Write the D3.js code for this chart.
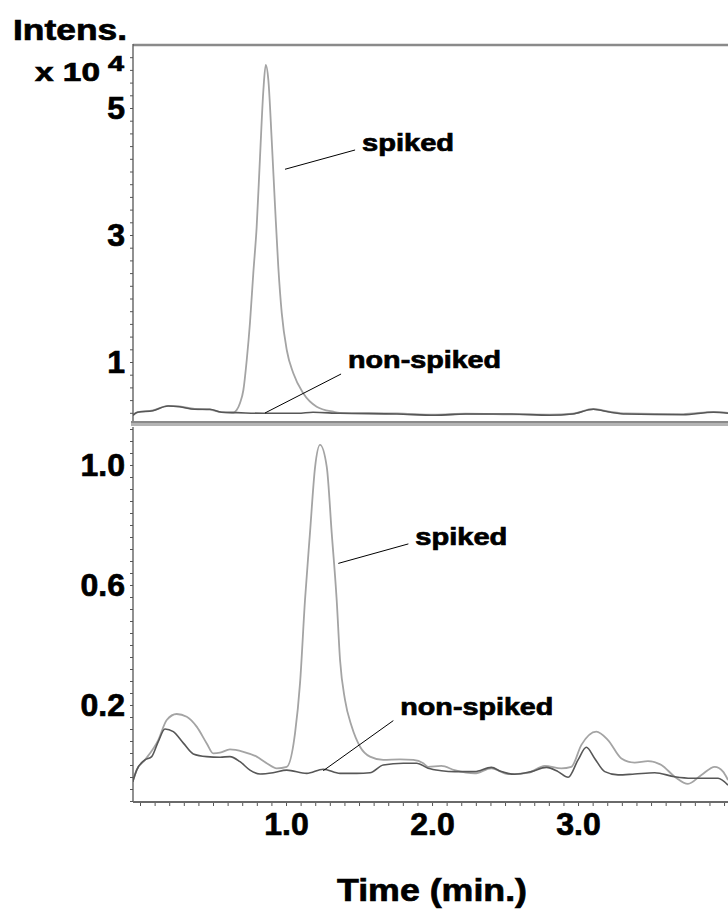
<!DOCTYPE html>
<html><head><meta charset="utf-8">
<script src="https://cdn.jsdelivr.net/npm/d3@7"></script>
<style>
html,body{margin:0;padding:0;background:#fff;}
svg{display:block;}
text{font-family:Arial,"Liberation Sans",sans-serif;font-weight:bold;fill:#000;stroke:#000;stroke-width:0.7px;}
</style>
</head><body>
<svg id="c" width="728" height="909"></svg>
<script>
// ---------- DATA (time in min, intensity) ----------
// Top panel, intensity x 10^4
const topNonSpiked = [[-0.048,0.16],[-0.016,0.208],[0.088,0.233],[0.192,0.307],[0.271,0.296],[0.375,0.255],[0.479,0.255],[0.558,0.208],[0.663,0.202],[0.846,0.192],[1.081,0.192],[1.185,0.208],[1.368,0.192],[1.760,0.181],[2.021,0.161],[2.230,0.181],[2.544,0.181],[2.805,0.161],[2.962,0.181],[3.105,0.255],[3.223,0.208],[3.327,0.181],[3.719,0.170],[3.928,0.208],[4.027,0.192]];
const topSpiked = [[-0.048,0.17],[-0.016,0.21],[0.088,0.238],[0.192,0.31],[0.271,0.30],[0.375,0.26],[0.479,0.25],[0.558,0.21],[0.640,0.205],[0.662,0.244],[0.685,0.354],[0.708,0.559],[0.731,1.031],[0.753,1.614],[0.776,2.402],[0.799,3.131],[0.822,4.233],[0.845,5.283],[0.861,5.677],[0.879,5.441],[0.902,4.496],[0.925,3.446],[0.947,2.501],[0.971,1.767],[1.005,1.189],[1.050,0.822],[1.118,0.507],[1.210,0.296],[1.324,0.217],[1.368,0.20],[1.760,0.19],[2.021,0.17],[2.230,0.185],[2.544,0.175],[2.805,0.17],[2.962,0.185],[3.105,0.26],[3.223,0.215],[3.327,0.19],[3.719,0.18],[3.928,0.215],[4.027,0.20]];
// Bottom panel
const botNonSpiked = [[-0.050,-0.056],[-0.023,-0.017],[0.034,0.017],[0.080,0.028],[0.125,0.078],[0.171,0.120],[0.228,0.111],[0.297,0.073],[0.365,0.037],[0.457,0.028],[0.548,0.026],[0.616,0.028],[0.685,0.011],[0.753,-0.017],[0.822,-0.030],[0.911,-0.026],[1.005,-0.017],[1.142,-0.028],[1.255,-0.014],[1.370,-0.028],[1.484,-0.028],[1.575,-0.026],[1.666,0.000],[1.803,0.006],[1.895,0.006],[1.973,-0.011],[2.064,-0.019],[2.155,-0.022],[2.292,-0.022],[2.406,-0.008],[2.475,-0.022],[2.566,-0.031],[2.680,-0.022],[2.783,-0.008],[2.863,-0.022],[2.932,-0.041],[3.000,0.017],[3.057,0.059],[3.114,0.022],[3.183,-0.022],[3.274,-0.033],[3.388,-0.030],[3.525,-0.026],[3.662,-0.039],[3.776,-0.044],[3.959,-0.044],[4.027,-0.067]];
const botSpiked = [[-0.050,-0.056],[-0.023,-0.017],[0.034,0.017],[0.125,0.083],[0.183,0.150],[0.251,0.170],[0.320,0.161],[0.388,0.128],[0.457,0.072],[0.502,0.039],[0.548,0.041],[0.616,0.052],[0.708,0.044],[0.799,0.028],[0.868,0.006],[0.936,-0.011],[1.005,-0.006],[1.062,0.107],[1.096,0.273],[1.130,0.550],[1.164,0.773],[1.199,0.993],[1.233,1.067],[1.279,0.994],[1.313,0.773],[1.347,0.550],[1.370,0.350],[1.404,0.217],[1.450,0.128],[1.507,0.061],[1.575,0.028],[1.666,0.017],[1.781,0.019],[1.872,0.017],[1.940,0.006],[1.973,-0.006],[2.064,-0.003],[2.155,-0.017],[2.292,-0.028],[2.406,-0.011],[2.521,-0.030],[2.658,-0.026],[2.772,-0.003],[2.886,-0.011],[2.954,-0.006],[3.023,0.067],[3.125,0.111],[3.205,0.083],[3.297,0.022],[3.388,0.008],[3.479,0.013],[3.571,0.000],[3.662,-0.039],[3.753,-0.063],[3.845,-0.033],[3.936,-0.006],[3.993,-0.022],[4.027,-0.050]];

const xTickLabels = [1.0, 2.0, 3.0];
const topTickLabels = [1, 3, 5];
const botTickLabels = [0.2, 0.6, 1.0];
const xTitle = "Time (min.)";
const yTitle = "Intens.";
const yUnit = "x 10";
const yUnitExp = "4";
// annotations: label, leader start, leader end (data units)
const topAnnotations = [
  {label:"spiked", from:[0.993,4.035], to:[1.473,4.339]},
  {label:"non-spiked", from:[0.856,0.197], to:[1.377,0.811]}
];
const botAnnotations = [
  {label:"spiked", from:[1.358,0.672], to:[1.838,0.737]},
  {label:"non-spiked", from:[1.255,-0.019], to:[1.735,0.148]}
];

// ---------- LAYOUT ----------
const svg = d3.select("#c");
const L = 133, R = 728;
const x = d3.scaleLinear().domain([-0.048, 4.027]).range([L, R]);
const yTop = d3.scaleLinear().domain([0, 6]).range([425.5, 44.5]);
const yBot = d3.scaleLinear().domain([-0.125, 1.1333]).range([802.5, 425]);

const defs = svg.append("defs");
defs.append("clipPath").attr("id","clipTop").append("rect").attr("x",L).attr("y",46).attr("width",R-L).attr("height",375);
defs.append("clipPath").attr("id","clipBot").append("rect").attr("x",L).attr("y",427).attr("width",R-L).attr("height",374);

const COL_SP = "#a4a4a4", COL_NS = "#575757";

function drawPanel(y, clipId, spiked, nonSpiked) {
  const line = d3.line().x(d => x(d[0])).y(d => y(d[1])).curve(d3.curveMonotoneX);
  const g = svg.append("g").attr("clip-path", `url(#${clipId})`);
  g.append("path").datum(spiked).attr("d", line).attr("fill","none").attr("stroke",COL_SP).attr("stroke-width",1.8);
  g.append("path").datum(nonSpiked).attr("d", line).attr("fill","none").attr("stroke",COL_NS).attr("stroke-width",1.6);
}
drawPanel(yTop, "clipTop", topSpiked, topNonSpiked);
drawPanel(yBot, "clipBot", botSpiked, botNonSpiked);

// ---------- FRAMES ----------
svg.append("line").attr("x1",L).attr("x2",R).attr("y1",45).attr("y2",45).attr("stroke","#8a8a8a").attr("stroke-width",2.5);
svg.append("rect").attr("x",131).attr("y",421).attr("width",R-131).attr("height",5).attr("fill","#b4b4b4");
svg.append("line").attr("x1",131).attr("x2",R).attr("y1",422).attr("y2",422).attr("stroke","#7c7c7c").attr("stroke-width",1.5);

// ---------- AXES ----------
function styleAxis(g, size) {
  g.select(".domain").remove();
  g.selectAll("line").attr("stroke","#555");
  g.selectAll("text").attr("font-size", size).attr("fill","#000");
  g.attr("font-size", null).attr("font-family", null);
}
// top y axis
const topMinor = d3.range(1, 30).map(i => i * 0.2);
svg.append("g").attr("transform",`translate(${L},0)`)
  .call(d3.axisLeft(yTop).tickValues(topMinor).tickSize(3).tickFormat(""))
  .call(g => styleAxis(g, 0));
svg.append("g").attr("transform",`translate(${L},0)`)
  .call(d3.axisLeft(yTop).tickValues(topTickLabels).tickSize(0).tickPadding(8).tickFormat(d3.format("d")))
  .call(g => styleAxis(g, 32));
svg.append("line").attr("x1",L).attr("x2",L).attr("y1",44).attr("y2",421).attr("stroke","#555").attr("stroke-width",1.3);

// bottom y axis
const botMinor = d3.range(-3, 29).map(i => i * 0.04);
svg.append("g").attr("transform",`translate(${L},0)`)
  .call(d3.axisLeft(yBot).tickValues(botMinor).tickSize(3).tickFormat(""))
  .call(g => styleAxis(g, 0));
svg.append("g").attr("transform",`translate(${L},0)`)
  .call(d3.axisLeft(yBot).tickValues(botTickLabels).tickSize(0).tickPadding(8).tickFormat(d3.format(".1f")))
  .call(g => styleAxis(g, 32));
svg.append("line").attr("x1",L).attr("x2",L).attr("y1",427).attr("y2",802).attr("stroke","#555").attr("stroke-width",1.3);

// x axis
const xMinor = d3.range(0, 41).map(i => i * 0.1);
svg.append("g").attr("transform",`translate(0,802)`)
  .call(d3.axisBottom(x).tickValues(xMinor).tickSize(4).tickFormat(""))
  .call(g => styleAxis(g, 0));
svg.append("g").attr("transform",`translate(0,802)`)
  .call(d3.axisBottom(x).tickValues(xTickLabels).tickSize(0).tickPadding(10).tickFormat(d3.format(".1f")))
  .call(g => styleAxis(g, 32));
svg.append("line").attr("x1",L).attr("x2",R).attr("y1",802).attr("y2",802).attr("stroke","#6a6a6a").attr("stroke-width",2);

// ---------- TITLES ----------
svg.append("text").attr("x",13).attr("y",40).attr("font-size",30)
  .attr("textLength",114).attr("lengthAdjust","spacingAndGlyphs").text(yTitle);
svg.append("text").attr("x",35).attr("y",81).attr("font-size",26)
  .attr("textLength",65).attr("lengthAdjust","spacingAndGlyphs").text(yUnit);
svg.append("text").attr("x",108).attr("y",71).attr("font-size",22)
  .attr("textLength",16).attr("lengthAdjust","spacingAndGlyphs").text(yUnitExp);
svg.append("text").attr("x",432).attr("y",901).attr("font-size",32).attr("text-anchor","middle")
  .attr("textLength",190).attr("lengthAdjust","spacingAndGlyphs").text(xTitle);

// ---------- ANNOTATIONS ----------
function annotate(list, y) {
  list.forEach(a => {
    svg.append("line")
      .attr("x1", x(a.from[0])).attr("y1", y(a.from[1]))
      .attr("x2", x(a.to[0])).attr("y2", y(a.to[1]))
      .attr("stroke","#000").attr("stroke-width",1);
    const w = a.label === "spiked" ? 92 : 153;
    svg.append("text")
      .attr("x", x(a.to[0]) + 7)
      .attr("y", y(a.to[1]) + (a.label === "spiked" ? 1.5 : -6))
      .attr("font-size", 23)
      .attr("textLength", w).attr("lengthAdjust","spacingAndGlyphs")
      .text(a.label);
  });
}
annotate(topAnnotations, yTop);
annotate(botAnnotations, yBot);
</script>
</body></html>
